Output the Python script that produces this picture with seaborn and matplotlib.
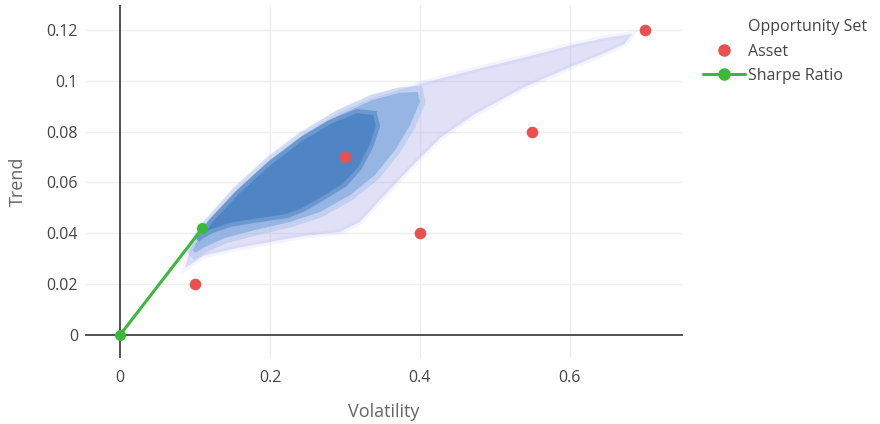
import numpy as np
import pandas as pd
import matplotlib
matplotlib.use("Agg")
import matplotlib.pyplot as plt
from matplotlib.lines import Line2D
import seaborn as sns

# assets (volatility, trend)
asset_vol = [0.1, 0.3, 0.4, 0.55, 0.7]
asset_trend = [0.02, 0.07, 0.04, 0.08, 0.12]

# capital line to the max sharpe portfolio
sharpe_vol = [0.0, 0.11]
sharpe_trend = [0.0, 0.042]

# opportunity set outline (outer faint halo)
halo_vol = [0.087, 0.093, 0.111, 0.156, 0.200, 0.244, 0.293, 0.337, 0.404, 0.471, 0.537,
            0.604, 0.647, 0.683, 0.673, 0.640, 0.604, 0.537, 0.471, 0.427, 0.387, 0.353,
            0.320, 0.293, 0.244, 0.200, 0.156, 0.111, 0.093]
halo_trend = [0.0264, 0.0334, 0.0421, 0.0570, 0.0688, 0.0787, 0.0877, 0.0932, 0.0991, 0.1042, 0.1090,
              0.1141, 0.1168, 0.1184, 0.1145, 0.1101, 0.1058, 0.0972, 0.0865, 0.0775, 0.0657, 0.0551,
              0.0445, 0.0405, 0.0389, 0.0366, 0.0342, 0.0311, 0.0275]

# medium density band
mid_vol = [0.097, 0.111, 0.156, 0.200, 0.244, 0.293, 0.337, 0.373, 0.397, 0.400, 0.387,
           0.367, 0.340, 0.307, 0.267, 0.227, 0.180, 0.140, 0.113, 0.100]
mid_trend = [0.0334, 0.0413, 0.0563, 0.0681, 0.0779, 0.0865, 0.0924, 0.0952, 0.0956, 0.0917, 0.0826,
             0.0728, 0.0629, 0.0551, 0.0484, 0.0445, 0.0413, 0.0382, 0.0346, 0.0323]

# dense core
core_vol = [0.104, 0.120, 0.156, 0.200, 0.244, 0.280, 0.316, 0.340, 0.344, 0.336, 0.320,
            0.300, 0.267, 0.244, 0.223, 0.177, 0.147, 0.123, 0.109]
core_trend = [0.0374, 0.0445, 0.0559, 0.0677, 0.0775, 0.0838, 0.0881, 0.0873, 0.0822, 0.0747, 0.0657,
              0.0590, 0.0531, 0.0492, 0.0468, 0.0448, 0.0433, 0.0409, 0.0386]

x_ticks = [0, 0.2, 0.4, 0.6]
x_labels = ["0", "0.2", "0.4", "0.6"]
y_ticks = [0, 0.02, 0.04, 0.06, 0.08, 0.1, 0.12]
y_labels = ["0", "0.02", "0.04", "0.06", "0.08", "0.1", "0.12"]

sns.set_style("white")
plt.rcParams['font.family'] = ['Open Sans', 'DejaVu Sans']

fig = plt.figure(figsize=(8.8, 4.24), dpi=100)
ax = fig.add_axes([85 / 880, 1 - 358 / 424, 598 / 880, 353 / 424])

# grid + zero lines
for t in x_ticks[1:]:
    ax.axvline(t, color="#eeeeee", lw=1, zorder=0)
for t in y_ticks[1:]:
    ax.axhline(t, color="#eeeeee", lw=1, zorder=0)
ax.axvline(0, color="#444444", lw=1.3, zorder=1)
ax.axhline(0, color="#444444", lw=1.3, zorder=1)

# opportunity set cloud, soft edged layers
ax.fill(halo_vol, halo_trend, color="#b3b5ec", alpha=0.14, lw=4, ec="#b3b5ec", zorder=2)
ax.fill(halo_vol, halo_trend, color="#b3b5ec", alpha=0.3, lw=0, zorder=2)
ax.fill(mid_vol, mid_trend, fc="#a4bde8", ec="#a4bde8", alpha=0.45, lw=8, zorder=3)
ax.fill(mid_vol, mid_trend, color="#92b3e2", alpha=0.9, lw=0, zorder=3)
ax.fill(core_vol, core_trend, fc="#5085c5", ec="#6c98d0", lw=3, zorder=4)

assets = pd.DataFrame({"vol": asset_vol, "trend": asset_trend})
sharpe = pd.DataFrame({"vol": sharpe_vol, "trend": sharpe_trend})

sns.lineplot(data=sharpe, x="vol", y="trend", ax=ax, color="#3cb83c", lw=2.2,
             marker="o", markersize=8, markeredgewidth=0, zorder=6, sort=False)
sns.scatterplot(data=assets, x="vol", y="trend", ax=ax, color="#ea5050", s=70,
                linewidth=0, zorder=7)

ax.set_xlim(-0.0467, 0.751)
ax.set_ylim(-0.00905, 0.1298)
ax.set_xticks(x_ticks)
ax.set_xticklabels(x_labels)
ax.set_yticks(y_ticks)
ax.set_yticklabels(y_labels)
ax.tick_params(axis="both", length=0, labelsize=11.5, labelcolor="#444444")
ax.tick_params(axis="x", pad=9)
ax.tick_params(axis="y", pad=5)
for s in ax.spines.values():
    s.set_visible(False)

ax.set_xlabel("Volatility", fontsize=13, color="#666666", labelpad=12)
ax.set_ylabel("Trend", fontsize=13, color="#666666", labelpad=14)

handles = [
    Line2D([], [], marker="o", ls="", color="#636efa", alpha=0.0, markersize=8),
    Line2D([], [], marker="o", ls="", color="#ea5050", markersize=8),
    Line2D([], [], marker="o", ls="-", color="#3cb83c", lw=2.2, markersize=8),
]
leg = fig.legend(handles, ["Opportunity Set", "Asset", "Sharpe Ratio"],
                 loc="upper left", bbox_to_anchor=(697 / 880, 1 - 13 / 424),
                 frameon=False, fontsize=11.5, handlelength=2.6, labelspacing=0.52,
                 handletextpad=0.2, borderaxespad=0)
for t in leg.get_texts():
    t.set_color("#444444")

fig.savefig("out.png", dpi=100)
